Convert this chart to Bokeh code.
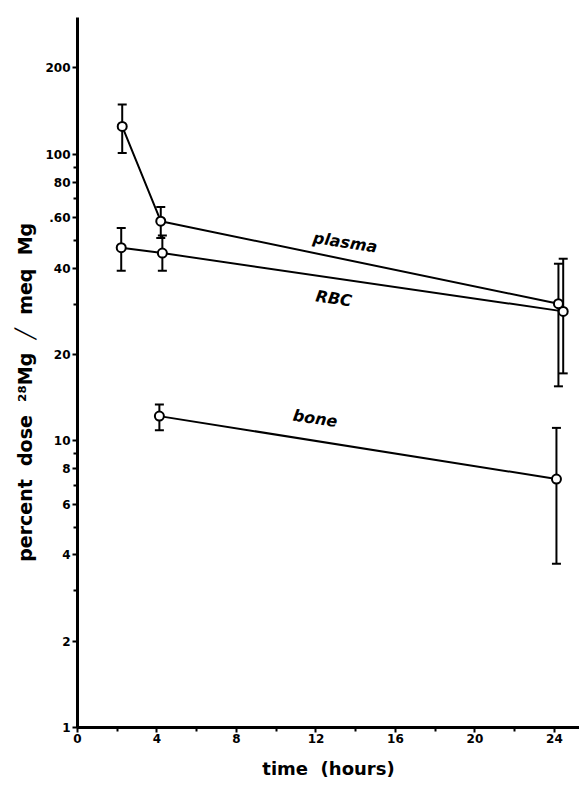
from bokeh.plotting import figure
from bokeh.models import FixedTicker, Whisker, TeeHead, ColumnDataSource, Range1d
from bokeh.core.properties import value
from bokeh.embed import file_html
from bokeh.resources import INLINE

# ---- data ----
plasma_t = [2.25, 4.19, 24.2]
plasma_v = [125, 58.4, 30.1]
plasma_lo = [101, 51, 15.5]
plasma_hi = [149, 65.5, 41.5]

rbc_t = [2.2, 4.27, 24.44]
rbc_v = [47.2, 45.2, 28.3]
rbc_lo = [39.2, 39.2, 17.2]
rbc_hi = [55.3, 52.1, 43.2]

bone_t = [4.12, 24.1]
bone_v = [12.2, 7.36]
bone_lo = [10.9, 3.73]
bone_hi = [13.4, 11.1]

series_labels = ["plasma", "RBC", "bone"]
label_t = [13.47, 12.9, 11.96]
label_v = [49.3, 31.4, 11.98]

x_ticks = [0, 4, 8, 12, 16, 20, 24]
x_minor = [2, 6, 10, 14, 18, 22]
y_ticks = [1, 2, 4, 6, 8, 10, 20, 40, 60, 80, 100, 200]
y_tick_labels = ["1", "2", "4", "6", "8", "10", "20", "40", ".60", "80", "100", "200"]
y_minor = [3, 5, 7, 9, 30, 50, 70, 90]

FONT = "DejaVu Sans"
NB = "\u00a0"

p = figure(width=579, height=781, y_axis_type="log",
           x_range=Range1d(0, 25.26), y_range=Range1d(1, 300),
           output_backend="svg", toolbar_location=None,
           min_border_left=77, min_border_right=0, min_border_top=17,
           min_border_bottom=54)
p.outline_line_color = None
p.grid.visible = False
p.background_fill_color = "white"

# axes
for ax in (p.xaxis[0], p.yaxis[0]):
    ax.axis_line_width = 3
    ax.axis_line_color = "black"
    ax.major_tick_line_width = 2
    ax.minor_tick_line_width = 2
    ax.major_tick_in = 0
    ax.minor_tick_in = 0
    ax.major_tick_out = 5
    ax.minor_tick_out = 4
    ax.major_label_text_font = FONT
    ax.major_label_text_font_style = "bold"
    ax.major_label_text_font_size = "12px"
    ax.major_label_text_color = "black"
    ax.axis_label_text_font = FONT
    ax.axis_label_text_font_style = "bold"
    ax.axis_label_text_color = "black"

p.xaxis.ticker = FixedTicker(ticks=x_ticks, minor_ticks=x_minor)
p.xaxis.major_label_standoff = 1
p.xaxis.axis_label = "time" + NB * 2 + "(hours)"
p.xaxis.axis_label_text_font_size = "18px"
p.xaxis.axis_label_standoff = 12

p.yaxis.ticker = FixedTicker(ticks=y_ticks, minor_ticks=y_minor)
p.yaxis.major_label_overrides = {t: l for t, l in zip(y_ticks, y_tick_labels)}
p.yaxis.major_label_standoff = 2
p.yaxis.axis_label = (NB * 2).join(["percent", "dose", "\u00b2\u2078Mg", "\u2571", "meq", "Mg"]) + NB * 6
p.yaxis.axis_label_text_font_size = "19px"
p.yaxis.axis_label_standoff = 6

# series
def draw(t, v, lo, hi):
    src = ColumnDataSource(dict(t=t, v=v, lo=lo, hi=hi))
    w = Whisker(base="t", lower="lo", upper="hi", source=src,
                line_width=2, line_color="black",
                upper_head=TeeHead(size=9, line_width=2, line_color="black"),
                lower_head=TeeHead(size=9, line_width=2, line_color="black"))
    p.add_layout(w)
    p.line("t", "v", source=src, line_width=2, line_color="black")
    p.scatter("t", "v", source=src, marker="circle", size=9,
              fill_color="white", line_color="black", line_width=2)

draw(plasma_t, plasma_v, plasma_lo, plasma_hi)
draw(rbc_t, rbc_v, rbc_lo, rbc_hi)
draw(bone_t, bone_v, bone_lo, bone_hi)

p.text(x=label_t, y=label_v, text=series_labels, angle=-0.15,
       text_font=value(FONT), text_font_style="bold italic",
       text_font_size="16px", text_align="center", text_baseline="middle",
       text_color="black")

open("out.html", "w").write(file_html(p, INLINE))
